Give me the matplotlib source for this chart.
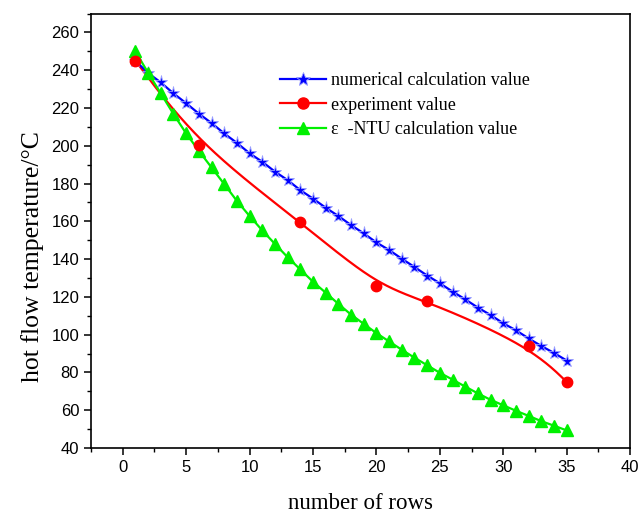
import numpy as np
import matplotlib
matplotlib.use("Agg")
import matplotlib.pyplot as plt
from matplotlib.ticker import MultipleLocator

# number of rows
rows = np.arange(1, 36)

# numerical calculation value
numerical = [245, 238.5, 233.5, 227.7, 222.5, 217, 212, 206.5, 201.5, 196,
             191.5, 186.3, 181.8, 176.5, 172, 167.2, 162.8, 158, 153.6, 148.8,
             144.8, 140.2, 135.8, 131.3, 127.2, 122.8, 118.7, 114.3, 110.4, 106,
             102.3, 98, 94, 90.3, 86.3]

# experiment value
exp_rows = [1, 6, 14, 20, 24, 32, 35]
experiment = [245, 200.5, 159.8, 126, 117.8, 94.2, 75]

# e-NTU calculation value
entu = [250, 238.6, 227.7, 216.8, 206.5, 197.3, 188.5, 179.7, 170.8, 162.8,
        155.2, 148, 141, 134.5, 128, 122.2, 116.3, 110.6, 105.7, 100.8,
        96.4, 92, 87.8, 83.8, 79.8, 76.2, 72.5, 68.9, 65.5, 62.6,
        59.7, 57, 54.2, 51.8, 49.3]


def bspline(xs, ys, n=60):
    # clamped uniform cubic B-spline through control points (Origin style)
    P = np.column_stack([xs, ys]).astype(float)
    P = np.vstack([P[0], P[0], P, P[-1], P[-1]])
    M = np.array([[-1, 3, -3, 1], [3, -6, 3, 0], [-3, 0, 3, 0], [1, 4, 1, 0]]) / 6.0
    t = np.linspace(0, 1, n)
    T = np.column_stack([t**3, t**2, t, np.ones_like(t)])
    segs = [T @ M @ P[i:i + 4] for i in range(len(P) - 3)]
    pts = np.vstack(segs)
    return pts[:, 0], pts[:, 1]


fig = plt.figure(figsize=(6.41, 5.16), dpi=100)
ax = fig.add_axes([0.142, 0.1318, 0.841, 0.842])

serif = ["Liberation Serif", "DejaVu Serif"]
sans = ["Liberation Sans", "DejaVu Sans"]
green = "#00f000"

ax.plot(rows, numerical, color="blue", lw=1.6, marker="*", ms=9.5,
        mfc="blue", mec="#9aa0ff", mew=0.6, zorder=3)
bx, by = bspline(exp_rows, experiment)
ax.plot(bx, by, color="red", lw=1.6, zorder=2)
ax.plot(exp_rows, experiment, ls="none", marker="o", ms=7.5, color="red", zorder=4)
ax.plot(rows, entu, color=green, lw=1.6, marker="^", ms=9,
        mfc=green, mec=green, zorder=3)

# legend proxies
h1, = ax.plot([], [], color="blue", lw=1.6, marker="*", ms=10, mfc="blue", mec="#9aa0ff", mew=0.6)
h2, = ax.plot([], [], color="red", lw=1.6, marker="o", ms=8)
h3, = ax.plot([], [], color=green, lw=1.6, marker="^", ms=9)
ax.legend([h1, h2, h3],
          ["numerical calculation value", "experiment value", "\u03b5  -NTU calculation value"],
          loc="upper left", bbox_to_anchor=(0.338, 0.882), frameon=False,
          prop={"family": serif, "size": 13}, handlelength=2.5,
          handletextpad=0.3, labelspacing=0.42, borderaxespad=0)

ax.set_xlim(-2.5, 40)
ax.set_ylim(40, 270)
ax.xaxis.set_major_locator(MultipleLocator(5))
ax.xaxis.set_minor_locator(MultipleLocator(2.5))
ax.yaxis.set_major_locator(MultipleLocator(20))
ax.yaxis.set_minor_locator(MultipleLocator(10))
ax.tick_params(which="major", direction="out", length=5, width=1.1, labelsize=12)
ax.tick_params(which="minor", direction="out", length=3, width=1.0)
for lab in ax.get_xticklabels() + ax.get_yticklabels():
    lab.set_family(sans)
for sp in ax.spines.values():
    sp.set_linewidth(1.2)

ax.set_xlabel("number of rows", family=serif, fontsize=16.5, labelpad=13)
ax.set_ylabel("hot flow temperature/\u00b0C", family=serif, fontsize=18.5)
ax.yaxis.set_label_coords(-0.088, 0.44)

fig.savefig("out.png", dpi=100)
